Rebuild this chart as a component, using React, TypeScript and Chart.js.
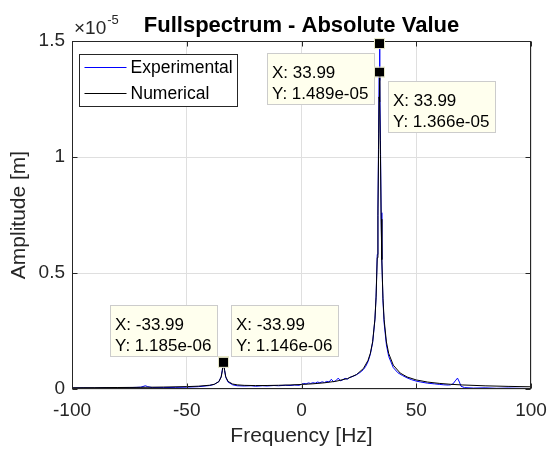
import { useEffect, useRef } from "react";
import { Chart, registerables } from "chart.js";
Chart.register(...registerables);

// ---- data (amplitude in units of 1e-5 m) ----
const numFreq = [-100, -90, -80, -70, -60, -50, -45, -40, -38, -36, -35, -34.5, -34.2, -33.99, -33.8, -33.5, -33, -32, -30, -28, -25, -20, -15, -10, -5, 0, 5, 10, 15, 20, 24, 27, 29, 30, 31, 32, 32.5, 33, 33.3, 33.6, 33.8, 33.99, 34.2, 34.4, 34.7, 35, 35.5, 36, 37, 38, 40, 43, 46, 50, 55, 60, 65, 70, 80, 90, 100];
const numAmp = [0.0053, 0.0058, 0.0064, 0.0072, 0.0084, 0.0103, 0.0121, 0.0162, 0.0203, 0.0319, 0.0519, 0.0788, 0.1047, 0.1146, 0.1064, 0.0805, 0.0529, 0.0326, 0.0214, 0.0178, 0.0157, 0.0148, 0.0151, 0.016, 0.0174, 0.0195, 0.0224, 0.0267, 0.0333, 0.0448, 0.0623, 0.0885, 0.1235, 0.1539, 0.204, 0.302, 0.3956, 0.5659, 0.7469, 1.033, 1.259, 1.366, 1.238, 1.01, 0.732, 0.5566, 0.3908, 0.2991, 0.2027, 0.153, 0.1027, 0.0688, 0.0518, 0.039, 0.0298, 0.0242, 0.0203, 0.0175, 0.0137, 0.0113, 0.0095];

const expFreq = [-100, -95, -90, -85, -80, -75, -72, -70, -68, -67, -65, -60, -55, -50, -45, -40, -38, -36, -35, -34.5, -34.2, -33.99, -33.8, -33.5, -33, -32, -30, -28, -25, -22, -20, -17, -15, -12, -10, -7, -5, -3, -1, 0, 1, 2, 3, 4, 5, 6, 7, 8, 9, 10, 11, 12, 13, 14, 15, 16, 17, 18, 19, 20, 21, 22, 23, 24, 25, 26, 27, 28, 29, 30, 31, 32, 32.5, 33, 33.3, 33.6, 33.8, 33.99, 34.2, 34.4, 34.7, 35, 35.5, 36, 37, 38, 40, 42, 44, 46, 48, 50, 52, 55, 58, 60, 62, 64, 65, 66, 67, 67.98, 68.8, 69.5, 71, 75, 80, 85, 90, 95, 100];
const expAmp = [0.004, 0.005, 0.004, 0.006, 0.005, 0.006, 0.007, 0.008, 0.014, 0.01, 0.006, 0.006, 0.007, 0.008, 0.01, 0.015, 0.02, 0.032, 0.053, 0.082, 0.108, 0.1185, 0.109, 0.08, 0.05, 0.03, 0.018, 0.014, 0.013, 0.014, 0.012, 0.014, 0.013, 0.015, 0.014, 0.016, 0.015, 0.017, 0.016, 0.02, 0.024, 0.022, 0.026, 0.024, 0.027, 0.025, 0.03, 0.027, 0.031, 0.028, 0.033, 0.03, 0.042, 0.031, 0.036, 0.047, 0.035, 0.04, 0.046, 0.042, 0.05, 0.053, 0.057, 0.062, 0.068, 0.075, 0.084, 0.098, 0.118, 0.15, 0.2, 0.3, 0.4, 0.58, 0.78, 1.1, 1.36, 1.489, 1.33, 1.07, 0.76, 0.56, 0.38, 0.285, 0.19, 0.14, 0.092, 0.07, 0.058, 0.048, 0.04, 0.034, 0.03, 0.025, 0.022, 0.02, 0.018, 0.017, 0.018, 0.022, 0.035, 0.047, 0.03, 0.012, 0.006, 0.004, 0.005, 0.003, 0.004, 0.003, 0.002];

const xTicks = [-100, -50, 0, 50, 100];
const yTicks = [0, 0.5, 1, 1.5];
const seriesNames = ["Experimental", "Numerical"];
const seriesColors = ["#0000ff", "#000000"];
const titleText = "Fullspectrum - Absolute Value";
const xLabel = "Frequency [Hz]";
const yLabel = "Amplitude [m]";
const yExponent = -5;

// data tips: which series and frequency are marked
const tipSeries = [0, 1, 0, 1];
const tipFreq = [33.99, 33.99, -33.99, -33.99];

const FONT = '"Liberation Sans", Arial, Helvetica, sans-serif';
const AXIS = "#262626";

function fmtExp(v: number): string {
  const s = v.toExponential(3);
  const [m, e] = s.split("e");
  const sign = e[0] === "-" ? "-" : "+";
  const d = e.replace(/^[+-]/, "");
  return m + "e" + sign + (d.length < 2 ? "0" + d : d);
}

const decor = {
  id: "decor",
  afterDatasetsDraw(chart: any) {
    const { ctx, chartArea: a, scales } = chart;
    const xs = scales.x, ys = scales.y;
    ctx.save();
    const L = Math.round(a.left) + 0.5, R = Math.round(a.right) - 0.5;
    const T = Math.round(a.top) + 0.5, B = Math.round(a.bottom) - 0.5;
    // box
    ctx.strokeStyle = AXIS;
    ctx.lineWidth = 1;
    ctx.strokeRect(L, T, R - L, B - T);
    // inward ticks
    ctx.beginPath();
    xTicks.forEach((v) => {
      const px = Math.round(xs.getPixelForValue(v)) + 0.5;
      ctx.moveTo(px, B); ctx.lineTo(px, B - 5);
      ctx.moveTo(px, T); ctx.lineTo(px, T + 5);
    });
    yTicks.forEach((v) => {
      const py = Math.round(ys.getPixelForValue(v)) + 0.5;
      ctx.moveTo(L, py); ctx.lineTo(L + 5, py);
      ctx.moveTo(R, py); ctx.lineTo(R - 5, py);
    });
    ctx.stroke();

    // exponent label
    ctx.fillStyle = AXIS;
    ctx.textBaseline = "alphabetic";
    ctx.textAlign = "left";
    ctx.font = "19px " + FONT;
    const base = "\u00d710";
    ctx.fillText(base, a.left + 2, 34);
    const w = ctx.measureText(base).width;
    ctx.font = "13px " + FONT;
    ctx.fillText(String(yExponent), a.left + 2 + w + 1, 24);

    // title
    ctx.fillStyle = "#000";
    ctx.font = "bold 22px " + FONT;
    ctx.textAlign = "center";
    ctx.fillText(titleText, (a.left + a.right) / 2, 32);

    // legend
    const lx = Math.round(a.left) + 7.5, ly = Math.round(a.top) + 13.5;
    const lw = 158, lh = 52;
    ctx.fillStyle = "#fff";
    ctx.fillRect(lx, ly, lw, lh);
    ctx.strokeStyle = AXIS;
    ctx.strokeRect(lx, ly, lw, lh);
    ctx.font = "17.5px " + FONT;
    ctx.textAlign = "left";
    ctx.textBaseline = "middle";
    seriesNames.forEach((name, i) => {
      const yy = ly + 13 + i * 26;
      ctx.strokeStyle = seriesColors[i];
      ctx.lineWidth = 1;
      ctx.beginPath();
      ctx.moveTo(lx + 5, yy); ctx.lineTo(lx + 47, yy);
      ctx.stroke();
      ctx.fillStyle = "#000";
      ctx.fillText(name, lx + 51, yy + 1);
    });

    // data tips
    const freqs = [expFreq, numFreq];
    const amps = [expAmp, numAmp];
    ctx.font = "17px " + FONT;
    tipSeries.forEach((s, k) => {
      const idx = freqs[s].indexOf(tipFreq[k]);
      const fx = freqs[s][idx], fy = amps[s][idx];
      const mx = xs.getPixelForValue(fx), my = ys.getPixelForValue(fy);
      const l1 = "X: " + fx.toFixed(2);
      const l2 = "Y: " + fmtExp(fy * Math.pow(10, yExponent));
      const tw = Math.max(ctx.measureText(l1).width, ctx.measureText(l2).width);
      const bw = Math.round(tw + 11), bh = 51;
      const right = s === 1;
      const below = fx > 0;
      const bx = right ? Math.round(mx) + 8 : Math.round(mx) - 6 - bw;
      const by = below ? Math.round(my) + 9 : Math.round(my) - 6 - bh;
      ctx.fillStyle = "rgb(255,255,238)";
      ctx.fillRect(bx + 0.5, by + 0.5, bw, bh);
      ctx.strokeStyle = "rgb(204,204,204)";
      ctx.lineWidth = 1;
      ctx.strokeRect(bx + 0.5, by + 0.5, bw, bh);
      ctx.fillStyle = "#000";
      ctx.textBaseline = "alphabetic";
      ctx.textAlign = "left";
      ctx.fillText(l1, bx + 5, by + 25);
      ctx.fillText(l2, bx + 5, by + 46);
      // marker
      ctx.fillStyle = "#000";
      ctx.fillRect(mx - 4.5, my - 4.5, 9, 9);
      ctx.strokeStyle = "rgb(230,230,200)";
      ctx.strokeRect(mx - 5, my - 5, 10, 10);
    });
    ctx.restore();
  },
};

export default function App() {
  const ref = useRef<HTMLCanvasElement | null>(null);
  useEffect(() => {
    if (!ref.current) return;
    const chart = new Chart(ref.current, {
      type: "line",
      data: {
        datasets: [
          {
            label: seriesNames[0],
            data: expFreq.map((f, i) => ({ x: f, y: expAmp[i] })),
            borderColor: seriesColors[0],
            borderWidth: 1,
            pointRadius: 0,
            tension: 0,
            order: 2,
          },
          {
            label: seriesNames[1],
            data: numFreq.map((f, i) => ({ x: f, y: numAmp[i] })),
            borderColor: seriesColors[1],
            borderWidth: 1,
            pointRadius: 0,
            tension: 0,
            order: 1,
          },
        ],
      },
      options: {
        animation: false,
        responsive: false,
        maintainAspectRatio: false,
        layout: { padding: { top: 41, right: 18, left: 0, bottom: 0 } },
        plugins: { legend: { display: false }, tooltip: { enabled: false }, title: { display: false } },
        scales: {
          x: {
            type: "linear",
            min: -100,
            max: 100,
            afterFit: (s: any) => { s.height = 63; s.paddingLeft = 0; s.paddingRight = 0; },
            afterBuildTicks: (s: any) => { s.ticks = xTicks.map((v) => ({ value: v })); },
            grid: { color: "#dfdfdf", drawTicks: false },
            border: { display: false },
            ticks: { padding: 10, color: AXIS, font: { size: 19, family: FONT }, maxRotation: 0, autoSkip: false },
            title: { display: true, text: xLabel, color: AXIS, font: { size: 21, family: FONT }, padding: { top: 0, bottom: 3 } },
          },
          y: {
            type: "linear",
            min: 0,
            max: 1.5,
            afterFit: (s: any) => { s.width = 72; s.paddingTop = 0; s.paddingBottom = 0; },
            afterBuildTicks: (s: any) => { s.ticks = yTicks.map((v) => ({ value: v })); },
            grid: { color: "#dfdfdf", drawTicks: false },
            border: { display: false },
            ticks: { padding: 7, color: AXIS, font: { size: 19, family: FONT }, callback: (v: any) => String(v) },
            title: { display: true, text: yLabel, color: AXIS, font: { size: 21, family: FONT }, padding: { top: 7, bottom: 0 } },
          },
        },
      },
      plugins: [decor],
    });
    return () => chart.destroy();
  }, []);
  return (
    <div style={{ position: "fixed", left: 0, top: 0, width: 549, height: 452, background: "#fff" }}>
      <canvas ref={ref} width={549} height={452} style={{ width: 549, height: 452, display: "block" }} />
    </div>
  );
}
